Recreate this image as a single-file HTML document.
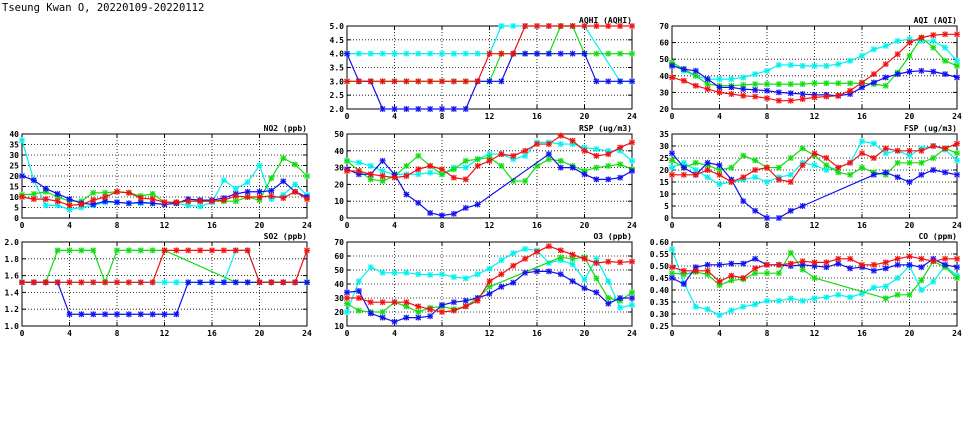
<!DOCTYPE html>
<html><head><meta charset="utf-8">
<style>
html,body{margin:0;padding:0;background:#fff;}
svg{display:block;}
text{font-family:"DejaVu Sans Mono","Liberation Mono",monospace;font-size:8px;font-weight:bold;fill:#000;}
.title{font-family:"DejaVu Sans Mono","Liberation Mono",monospace;font-size:10.5px;font-weight:normal;}
</style></head>
<body>
<svg id="s" width="975" height="447" xmlns="http://www.w3.org/2000/svg">
<text class="title" x="2" y="11">Tseung Kwan O, 20220109-20220112</text>
</svg>
<script>
const N=null;
const C={c:"#00f0f0",g:"#10dd10",b:"#1010ee",r:"#f01010"};
const panels=[
{x:347,y:26,w:285,h:83,t:"AQHI (AQHI)",min:2,max:5,step:0.5,dec:1,d:{
c:[4,4,4,4,4,4,4,4,4,4,4,4,4,5,5,5,5,5,5,5,5,N,N,3,3],
g:[3,3,3,3,3,3,3,3,3,3,3,3,3,4,4,4,4,4,5,5,4,4,4,4,4],
b:[4,3,3,2,2,2,2,2,2,2,2,3,3,3,4,4,4,4,4,4,4,3,3,3,3],
r:[3,3,3,3,3,3,3,3,3,3,3,3,4,4,4,5,5,5,5,5,5,5,5,5,5]}},
{x:672,y:26,w:285,h:83,t:"AQI (AQI)",min:20,max:70,step:10,dec:0,d:{
c:[47,43,40,38,38,38,39,41,43,46.5,46.5,46,46,46,47,49,52,56,58,61,62,61,61,57,49],
g:[48,44,40,35,34,34,34.5,35,35,35,35,35,35.5,35.5,35.5,35.5,35.5,35,34,42,52,63,57,49,46],
b:[46,44,43,38,33,33,32,31.5,31,30,29.5,29,28.5,28.5,28,29,33,36,39,41,42.5,43,42.5,41,39],
r:[39,37,34,32,30,29,28,27.5,26.5,25,25,26,27,27.5,28,31,36,41,47,53,60,63,64.5,65,65]}},
{x:22,y:134,w:285,h:84,t:"NO2 (ppb)",min:0,max:40,step:5,dec:0,d:{
c:[37,18,6,6,4,5,6,7.5,7.5,7,7,7,6.5,7,6,5.5,7.5,18,14,17,25,9,11,16,11],
g:[11,11.5,12.5,10,8,8,12,12,12.5,12,10.5,11.5,7.5,7.5,8,8,8,8,8,10,8.5,19,28.5,25.5,20],
b:[20,18,14,11.5,9,7,6.5,8,7.5,7,7.5,7,6.5,7,9,8.5,8.5,9.5,11.5,12.5,12.5,13,17.5,12.5,10],
r:[10,9,9,8,6,6.5,8.5,10,12.5,12,9.5,9,7.5,7.5,8,8,8,8.5,10.5,10,10,10.5,9.5,12.5,9]}},
{x:347,y:134,w:285,h:84,t:"RSP (ug/m3)",min:0,max:50,step:10,dec:0,d:{
c:[34,33,31,28,26,26,26,27,26,30,30,35,38,38,35,37,45,45,44,44,42,41,40,40,34],
g:[34,28,23,22,25,31,37,31,26,29,34,35,36,31,22,22,31,35,34,31,28,30,31,32,29],
b:[29,26,26,34,26,14,9,3,1.5,2.5,6,8,N,N,N,N,N,38,30,30,26,23,23,24,28],
r:[28,28,26,25,24,25,29,31,29,24,23,31,34,38,37,40,44,44,49,46,40,37,38,42,45]}},
{x:672,y:134,w:285,h:84,t:"FSP (ug/m3)",min:0,max:35,step:5,dec:0,d:{
c:[21,23,20,17,14,15,16,17,15,17,18,23,22,20,21,23,32,31,27,28,26,29,30,28.5,24],
g:[24,21,23,22,20,21,26,24,21,21,25,29,26,22,19,18,21,19,18,23,23,23,25,29,27],
b:[27,21,18,23,22,16,7,3,0,0,3,5,N,N,N,N,N,18,19,17,15,18,20,19,18],
r:[18,18,18,20,18,15,17,20,21,16,15,22,27,25,21,23,27,25,29,28,28,28,30,29,31]}},
{x:22,y:242,w:285,h:84,t:"SO2 (ppb)",min:1,max:2,step:0.2,dec:1,d:{
c:[1.52,1.52,1.52,1.52,1.52,1.52,1.52,1.52,1.52,1.52,1.52,1.52,1.52,1.52,1.52,1.52,1.52,1.52,1.9,1.9,1.52,1.52,1.52,1.52,1.52],
g:[1.52,1.52,1.52,1.9,1.9,1.9,1.9,1.52,1.9,1.9,1.9,1.9,1.9,N,N,N,N,N,1.52,1.52,1.52,1.52,1.52,1.52,1.52],
b:[1.52,1.52,1.52,1.52,1.14,1.14,1.14,1.14,1.14,1.14,1.14,1.14,1.14,1.14,1.52,1.52,1.52,1.52,1.52,1.52,1.52,1.52,1.52,1.52,1.52],
r:[1.52,1.52,1.52,1.52,1.52,1.52,1.52,1.52,1.52,1.52,1.52,1.52,1.9,1.9,1.9,1.9,1.9,1.9,1.9,1.9,1.52,1.52,1.52,1.52,1.9]}},
{x:347,y:242,w:285,h:84,t:"O3 (ppb)",min:10,max:70,step:10,dec:0,d:{
c:[20,42,52,48,48,48,47,46.5,47,45,44,47,51,57,62,65,64,55,57,54,43,58,42,23,25],
g:[26,21,20,20,27,24,20,23,24,22,24,30,38,N,N,N,N,N,59,58,59,44,30,28,34],
b:[34,35,19,16,13,16,16,17,25,27,28,30,33,38,41,48,49,49,47,42,37,34,26,30,30],
r:[30,30,27,27,27,27,24,22,20,21,24,28,42,47,53,58,63,67,64,61,58,55,56,55.5,56]}},
{x:672,y:242,w:285,h:84,t:"CO (ppm)",min:0.25,max:0.6,step:0.05,dec:2,d:{
c:[0.57,0.43,0.33,0.32,0.295,0.315,0.33,0.34,0.355,0.355,0.365,0.355,0.365,0.37,0.38,0.37,0.385,0.41,0.415,0.45,0.5,0.4,0.435,0.5,0.46],
g:[0.47,0.465,0.475,0.465,0.42,0.44,0.445,0.47,0.47,0.47,0.555,0.485,0.45,N,N,N,N,N,0.365,0.38,0.38,0.44,0.52,0.495,0.45],
b:[0.45,0.425,0.495,0.505,0.505,0.51,0.51,0.53,0.505,0.505,0.5,0.505,0.5,0.495,0.51,0.49,0.495,0.48,0.49,0.505,0.505,0.495,0.53,0.505,0.495],
r:[0.495,0.48,0.48,0.48,0.435,0.46,0.45,0.49,0.505,0.505,0.51,0.52,0.515,0.515,0.53,0.53,0.505,0.505,0.515,0.53,0.54,0.53,0.52,0.53,0.53]}}
];
let h="";
for(const p of panels){
 const X=i=>p.x+p.w*i/24, Y=v=>p.y+p.h-(v-p.min)/(p.max-p.min)*p.h;
 const n=Math.round((p.max-p.min)/p.step);
 for(let k=0;k<=n;k++){const v=p.min+k*p.step,y=Y(v);
  if(k>0&&k<n)h+=`<line x1="${p.x}" y1="${y}" x2="${p.x+p.w}" y2="${y}" stroke="#000" stroke-width="0.8" stroke-dasharray="1,2"/>`;
  h+=`<line x1="${p.x}" y1="${y}" x2="${p.x+4}" y2="${y}" stroke="#000"/><line x1="${p.x+p.w-4}" y1="${y}" x2="${p.x+p.w}" y2="${y}" stroke="#000"/>`;
  h+=`<text x="${p.x-3}" y="${y+3}" text-anchor="end">${v.toFixed(p.dec)}</text>`;}
 for(let t=0;t<=24;t+=4){const x=X(t);
  if(t>0&&t<24)h+=`<line x1="${x}" y1="${p.y}" x2="${x}" y2="${p.y+p.h}" stroke="#000" stroke-width="0.8" stroke-dasharray="1,2"/>`;
  h+=`<line x1="${x}" y1="${p.y+p.h}" x2="${x}" y2="${p.y+p.h-4}" stroke="#000"/><line x1="${x}" y1="${p.y}" x2="${x}" y2="${p.y+4}" stroke="#000"/>`;
  h+=`<text x="${x}" y="${p.y+p.h+10}" text-anchor="middle">${t}</text>`;}
 h+=`<rect x="${p.x}" y="${p.y}" width="${p.w}" height="${p.h}" fill="none" stroke="#000" stroke-width="1"/>`;
 h+=`<text x="${p.x+p.w}" y="${p.y-3}" text-anchor="end">${p.t}</text>`;
 h+=`<svg x="${p.x-3}" y="${p.y-3}" width="${p.w+6}" height="${p.h+6}" overflow="hidden"><g transform="translate(${3-p.x},${3-p.y})">`;
 for(const s of ["c","g","b","r"]){
  const d=p.d[s],col=C[s];let pts=[];
  d.forEach((v,i)=>{if(v!==null)pts.push([X(i),Y(v)]);});
  h+=`<polyline points="${pts.map(q=>q.join(",")).join(" ")}" fill="none" stroke="${col}" stroke-width="1.2"/>`;
  for(const [x,y] of pts){
   h+=`<rect x="${x-2.5}" y="${y-2.5}" width="5" height="5" fill="${col}" opacity="0.35"/>`;
   h+=`<path d="M${x-2.5},${y-2.5}L${x+2.5},${y+2.5}M${x-2.5},${y+2.5}L${x+2.5},${y-2.5}M${x},${y-3}V${y+3}M${x-3},${y}H${x+3}" stroke="${col}" stroke-width="1"/>`;
  }
 }
 h+=`</g></svg>`;
}
document.getElementById("s").insertAdjacentHTML("beforeend",h);
</script>
</body></html>
